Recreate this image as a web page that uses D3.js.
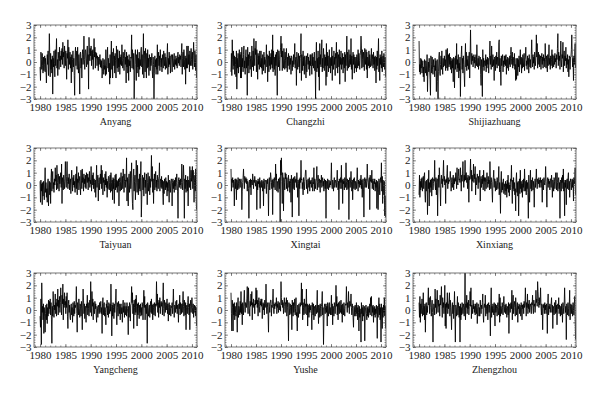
<!DOCTYPE html>
<html>
<head>
<meta charset="utf-8">
<script src="https://cdn.jsdelivr.net/npm/d3@7"></script>
<style>
  body { margin: 0; background: #fff; }
  svg { display: block; }
  .tick text { font-family: "Liberation Serif", "DejaVu Serif", serif; font-size: 11px; fill: #222; }
  .tick line { stroke: #444; stroke-width: 0.6; }
  .name { font-family: "Liberation Serif", "DejaVu Serif", serif; font-size: 10px; fill: #222; }
</style>
</head>
<body>
<svg id="chart" width="600" height="396"></svg>
<script>
// monthly values, Jan 1980 - Dec 2010, one line per year
const stations = ['Anyang', 'Changzhi', 'Shijiazhuang', 'Taiyuan', 'Xingtai', 'Xinxiang', 'Yangcheng', 'Yushe', 'Zhengzhou'];
const yearTicks = [1980, 1985, 1990, 1995, 2000, 2005, 2010];
const valueTicks = [-3, -2, -1, 0, 1, 2, 3];
const startYear = 1980;

const anyang = [
  -0.4, -1.5, 0.8, 0.2, -0.6, 0.7, -0.3, -0.9, 0.4, -0.7, -0.2, 0.5,
  -0.8, 0.3, -0.5, -1.7, -0.4, 0.6, -0.2, 0.9, -1.1, 0.1, 2.3, 0.4,
  -1.2, 0.7, -0.6, 0.2, -0.9, 0.5, -2.6, 0.3, -0.4, 0.9, -0.1, -1.2,
  1.0, -0.3, 0.6, 1.9, -0.5, 0.2, -1.1, 0.8, 0.3, -0.6, 1.2, 0.1,
  0.5, -0.4, 0.9, 0.2, 1.1, -0.2, 1.6, 0.4, 0.8, -0.5, 1.3, 0.6,
  -0.3, 0.9, 0.1, -1.4, 0.7, 0.3, 1.8, -0.6, 1.2, 0.5, -0.2, 0.8,
  -0.5, 0.4, -1.7, 0.6, -0.8, 0.2, 0.9, -0.4, 0.3, -1.1, -2.7, 0.5,
  1.2, -0.3, 0.4, 0.9, -0.6, 1.2, 0.1, -0.9, 0.6, -0.4, -2.6, 0.7,
  0.8, -0.5, 0.3, -1.3, 0.6, 1.0, -0.2, 0.4, 2.1, 0.2, -0.6, 0.9,
  1.0, 0.3, -0.4, 0.8, 1.3, -0.2, 0.6, -2.2, 2.0, 0.7, 0.1, 1.1,
  0.5, 1.3, -0.3, 0.9, 0.2, 1.0, -0.6, 0.7, 1.9, 0.4, 1.2, -0.5,
  0.8, 0.3, 0.7, -0.3, 0.5, 0.1, -0.7, 0.4, -0.2, 0.3, 0.6, -0.4,
  0.2, -0.5, 0.1, -1.3, -0.8, 0.3, -0.2, -1.0, 0.2, -0.6, -0.3, -1.1,
  1.0, -1.0, -0.3, 0.4, 1.2, -0.5, 0.3, -0.8, -0.1, -1.8, 0.6, -1.3,
  0.4, 1.7, -0.6, 0.8, -1.3, 0.2, 1.1, -0.3, 0.5, -0.9, 0.7, 0.1,
  -1.3, 1.3, 0.2, -0.5, 1.0, -0.8, 0.3, -0.4, 0.9, -1.0, 0.4, -0.2,
  0.6, -0.3, 1.4, 0.1, -0.5, 0.8, 0.3, -0.7, 0.5, 1.0, -0.2, 0.4,
  -1.7, 0.8, -0.4, 0.5, -0.9, 0.2, -1.5, 0.6, -0.3, 0.1, -0.8, 0.4,
  0.3, 2.2, -0.5, 1.0, 0.3, -0.6, 0.7, -3.0, -1.5, 0.4, 1.0, -0.2,
  -1.5, 0.6, -0.9, 1.0, -0.4, 0.3, -1.2, 0.8, -0.6, 0.2, -0.3, 0.9,
  1.2, -0.4, 0.6, -1.0, 0.3, 2.3, -1.3, 0.5, 0.9, -0.8, 1.1, 0.2,
  -1.3, 0.7, -0.5, 1.0, -0.4, 0.3, -1.1, 0.6, 0.2, -0.7, 0.4, -0.3,
  0.1, 0.7, -0.8, -1.3, 0.4, -0.2, -3.0, -0.9, 0.5, -0.4, 0.2, -1.0,
  0.3, -0.6, 1.4, -1.0, 0.2, 0.8, -0.3, 0.5, -0.7, 1.0, 0.1, -0.4,
  0.3, -0.8, 0.6, 0.1, -0.5, 0.9, 0.2, -0.3, 0.7, -0.6, 0.4, 0.0,
  -0.5, 0.6, 1.5, -1.0, 0.3, -0.4, 0.8, -0.2, 0.5, -0.9, 0.2, 0.6,
  0.5, -0.8, 0.6, 0.1, -0.4, 0.3, 0.7, -0.6, 0.2, -0.2, 0.5, -0.3,
  0.3, -0.5, 0.6, 0.8, -0.1, 0.4, -0.3, 0.6, 0.2, 0.5, -0.4, 0.7,
  1.5, -1.0, 0.3, 0.8, -0.4, 1.0, 0.2, -0.6, 0.5, -1.8, 0.3, -0.5,
  1.3, -0.5, 0.4, 1.3, -0.2, 0.6, -0.8, 0.9, 0.1, -0.3, 1.1, 0.2,
  -0.3, 0.8, -0.6, 0.5, 1.6, 0.2, -0.4, 0.9, 0.3, -0.7, 0.6, -1.3
];

const changzhi = [
  -0.8, 0.7, -1.1, 1.8, 0.2, -0.6, 0.9, -0.3, 0.5, -1.0, 0.4, -0.2,
  -1.2, 0.9, -2.2, 0.3, -0.5, 0.7, -0.9, 0.2, 1.0, -0.4, 0.6, -1.3,
  0.8, -1.3, 1.2, -0.4, 0.3, -0.8, 0.6, 1.3, -0.5, 0.1, -1.0, 0.5,
  1.0, -0.5, 0.4, -2.7, 1.2, -0.3, 0.6, -0.9, 0.2, 0.8, -0.6, 0.3,
  0.5, -1.2, 1.3, 0.2, -0.4, 0.9, -0.7, 1.9, 0.4, -0.3, 1.1, 0.6,
  1.7, -0.8, 1.0, 0.3, -1.4, 0.7, -0.2, 0.5, -0.6, 0.9, 0.1, -0.4,
  0.9, -0.5, 0.3, -1.0, 0.6, 0.1, -0.7, 0.8, -0.2, 0.4, -0.9, 0.2,
  0.3, 1.4, -0.4, 0.6, -1.6, 0.2, 0.5, -0.8, 0.9, -0.3, 0.4, -0.6,
  0.7, -0.2, 1.0, -0.5, 2.2, -0.8, 0.9, 0.1, -0.6, 0.4, -1.1, 0.6,
  -0.3, 0.8, -0.5, -2.7, 1.0, 0.5, -0.4, 0.9, 0.2, -0.7, 0.6, 1.2,
  2.1, 0.4, 1.5, -0.7, 0.9, 0.2, -0.5, 1.1, 0.3, -0.6, 0.8, 0.1,
  -0.5, 1.1, 0.2, -0.8, 0.4, -0.3, 0.7, 0.1, -0.6, 0.5, -0.2, 0.3,
  -1.0, 0.5, 0.4, -0.7, 0.1, -0.4, 0.6, -0.2, 0.3, 1.5, -0.5, 0.2,
  0.4, -1.9, 0.8, 0.3, -0.6, 0.2, 0.7, -0.4, 0.5, -0.9, 0.3, 0.6,
  2.3, -1.5, 0.6, 0.1, -0.7, 0.9, -0.3, 0.4, -1.0, 0.5, 0.2, -0.4,
  -1.3, 0.5, -0.8, 0.3, 0.7, -0.2, 0.4, -0.6, 0.1, -1.1, 0.6, -0.3,
  0.6, -0.2, -1.0, 0.7, -0.3, 0.4, -0.5, 0.2, 0.8, -0.7, 0.1, -3.0,
  0.5, 1.6, -0.8, 0.3, -0.5, 0.9, -1.2, 0.4, -2.3, 1.5, -0.2, 0.6,
  -0.4, 0.9, 1.8, -0.8, 0.3, -0.5, 1.1, 0.2, -0.7, 0.6, -0.3, 0.4,
  -1.9, 1.5, -1.2, 0.8, -0.3, 0.5, -0.8, 0.2, 1.0, -0.5, 0.3, -0.9,
  0.4, -0.3, 1.2, -1.5, 0.5, 0.1, -0.6, 0.9, -0.2, 0.4, -1.1, 0.7,
  0.3, 1.6, -0.5, 0.8, -0.9, 0.2, 0.6, -0.4, 1.0, -1.8, 0.4, -0.2,
  0.9, -0.6, 0.3, -0.2, 0.7, -0.9, 0.4, 0.1, -0.5, 0.8, -1.6, 0.6,
  -0.3, 0.5, 2.1, -0.7, 0.8, 0.2, -0.5, 1.0, 0.3, -0.4, 0.6, -0.2,
  1.9, -0.6, 0.5, -1.4, 0.3, 0.8, -0.2, 0.6, -0.9, 0.4, 0.1, -0.5,
  0.4, -0.8, 0.6, 0.2, -0.5, 1.0, -0.3, 0.7, 0.1, -0.6, 0.5, 0.9,
  2.1, 1.3, -0.5, 1.0, 0.2, -0.4, 0.8, 0.3, -0.7, 1.1, 0.4, -0.2,
  1.0, -0.6, 0.8, -1.3, 0.4, 0.2, -0.3, 0.9, -0.5, 0.6, 0.1, -0.4,
  0.3, 1.1, -0.3, 0.6, 0.2, -0.5, 0.8, -0.2, 0.4, -0.7, 0.5, 0.0,
  -1.7, 0.4, -0.6, 0.9, -0.3, 0.5, 1.9, -0.8, 0.3, -1.5, 0.6, -0.2,
  0.4, -0.5, 0.9, -0.8, 0.3, 0.5, -0.4, 0.7, 0.2, -0.6, 0.4, -1.2
];

const shijiazhuang = [
  1.7, -0.8, -0.2, -1.0, 0.3, -0.5, 0.2, -0.9, -0.3, 0.1, -1.2, -0.4,
  -1.6, 0.2, -0.5, -0.9, 0.1, -0.3, -1.1, 0.6, -2.4, -0.6, 0.0, -0.8,
  0.3, -0.5, -1.4, -2.7, 0.5, -0.2, -0.9, 0.4, -0.6, -1.0, 0.2, -0.4,
  -0.3, -1.2, 0.3, -0.7, 0.1, -2.4, -0.5, 0.2, -1.6, -3.0, -0.8, 0.4,
  0.8, -0.8, -1.1, -0.2, 0.5, -0.6, 0.9, -0.3, -1.0, 0.3, -0.4, -0.1,
  0.5, -0.3, 0.2, -0.7, 1.0, 0.4, -0.5, 1.1, -0.7, 0.0, 0.6, -0.4,
  0.7, -0.2, 0.4, -0.6, 0.1, -0.9, 0.3, -0.5, 0.2, -1.6, 0.4, -0.4,
  -2.1, 0.3, -0.6, 0.5, -0.2, 1.5, -0.8, 0.2, -0.5, 0.6, -1.3, -0.1,
  -0.7, 0.4, -2.8, -0.3, 0.6, 1.3, -0.6, 0.3, -0.9, 0.5, -0.2, -1.1,
  -2.0, 0.2, 1.5, -0.4, 0.8, -0.7, 0.2, -0.3, 0.5, -0.6, 0.1, 0.8,
  -1.3, 0.4, 2.6, 0.3, -0.2, 0.7, 0.1, 0.5, -0.4, 0.3, 0.6, -0.1,
  0.4, -0.5, 0.2, 0.6, -0.3, 1.4, 0.0, -0.4, 0.3, -0.6, 0.5, -0.2,
  -0.3, 0.4, -1.0, -1.9, 0.2, -0.6, -2.8, 1.0, -0.4, 0.3, -0.7, 0.1,
  0.1, -0.3, 0.6, -0.8, 0.2, -0.5, 0.4, -0.2, 0.3, -0.9, 0.0, 0.5,
  1.7, -0.2, 0.5, -0.6, 1.3, 0.1, -0.4, 0.6, -0.3, 0.2, -1.5, 0.4,
  0.3, -0.7, 0.5, -0.2, 0.8, -0.5, 0.4, 0.1, -0.3, 1.6, 1.8, -0.8,
  0.3, -0.6, -1.9, 0.5, -0.3, 0.2, 0.6, -0.8, 0.1, -0.4, 0.5, -0.2,
  0.5, -0.3, 0.6, -1.0, 0.2, -0.5, 0.4, 0.1, -0.7, 0.3, -0.2, 0.5,
  -0.4, 0.6, 1.2, 0.3, -0.2, 0.8, -0.5, 0.4, 0.1, -0.3, 0.7, -0.6,
  -0.2, -1.5, 0.3, -1.4, -0.6, 0.3, -1.1, 0.2, -0.4, 0.5, -0.8, 0.1,
  1.0, -0.2, 0.4, -0.9, 0.3, -0.5, 0.6, 0.0, -0.4, 0.7, -0.7, 0.2,
  0.4, 1.2, -0.3, 0.1, -0.6, 0.5, -0.2, 0.3, -0.9, 0.6, 0.0, -0.4,
  0.2, -0.5, 0.6, 1.8, 0.3, -0.4, 0.6, -0.1, 0.4, -0.6, 0.8, 0.1,
  -0.3, 0.5, 2.2, 0.4, 1.5, -0.5, 0.3, 0.8, -0.2, 0.6, -0.4, 0.2,
  0.5, -0.6, 0.3, 0.7, -0.2, 0.4, -0.5, 0.6, 0.1, 0.3, -0.4, 1.5,
  0.2, -0.5, 0.5, 0.0, -0.8, 0.6, -0.3, 0.4, 1.4, -0.2, 0.3, -0.6,
  0.5, -0.3, 0.2, 1.0, -0.5, 0.6, 0.1, -0.4, 0.5, -0.2, 0.7, 0.0,
  0.3, -0.5, 0.6, 0.2, 1.1, 2.3, -0.3, 0.8, 0.1, 0.5, -0.6, 0.4,
  1.7, 0.2, -0.4, 0.6, 0.3, 1.6, -0.8, 0.4, 0.9, -0.3, 0.5, 0.1,
  1.2, -0.5, 0.3, -0.2, 0.6, -0.8, 0.2, -1.2, 0.5, 0.3, -0.6, 0.4,
  0.4, 1.0, 2.2, 0.6, -0.4, 0.3, -1.5, 0.5, -0.2, 0.8, 1.5, -0.5
];

const taiyuan = [
  0.3, -1.4, 0.4, -0.5, 0.1, -1.6, 0.2, -0.9, 0.3, -0.4, -1.2, 0.0,
  1.4, -0.6, 0.2, -1.0, -0.3, -1.4, 0.0, 0.5, -1.7, -0.2, 0.3, -0.8,
  0.2, -1.5, 0.6, 1.3, -0.5, 0.4, 1.1, -0.3, 0.2, -0.6, 0.5, 0.0,
  1.4, 0.3, 0.8, -0.4, 1.6, 0.2, -0.3, 0.9, 0.4, -0.5, 0.7, 0.1,
  0.6, 1.0, -0.2, 1.7, -1.5, 0.6, 0.2, -0.4, 0.8, 0.3, -0.3, 0.5,
  1.9, 0.4, -0.2, 0.7, 1.9, 0.3, -0.3, 0.6, 0.1, 0.9, -0.4, 0.2,
  0.5, -0.7, 0.4, 1.2, 0.3, -0.5, 0.6, 0.0, 0.8, -0.2, 0.3, -0.6,
  0.4, 0.9, -0.3, 1.5, -0.8, 0.5, 0.2, 1.0, -0.4, 0.3, 0.7, -0.1,
  -0.8, 1.2, 0.4, -0.3, 1.3, 0.2, 0.6, -0.5, 0.9, 0.1, 0.5, -0.2,
  0.8, -0.3, 1.0, 0.5, 0.2, 0.9, -0.4, 0.6, 0.3, 1.1, -0.2, 0.4,
  0.1, 1.5, -0.5, 0.3, 0.8, 0.0, 1.0, -0.3, 0.5, 0.2, -0.6, 0.4,
  -1.0, 0.3, 1.6, -0.2, 0.5, 0.8, -1.3, 0.2, 0.6, -0.4, 0.3, 0.9,
  0.1, 1.6, -0.3, 1.2, 0.4, -0.8, 0.6, 0.2, 0.4, -0.5, 0.9, 0.0,
  1.1, -0.2, 0.5, -1.0, 0.3, -0.3, 0.7, 0.6, -0.4, 0.2, 0.8, -0.6,
  1.0, 0.2, -0.5, 0.4, -1.2, 0.6, -0.3, 0.5, -1.5, 0.2, 0.8, -0.4,
  0.9, -0.2, 0.4, -0.6, 0.3, -0.1, 0.5, -1.7, 0.2, 0.6, -0.5, 0.3,
  1.0, -0.4, 0.2, 0.7, -0.3, 1.3, 0.5, -0.6, 0.3, 0.9, -0.2, 0.4,
  0.3, 2.2, -1.3, 0.6, -0.4, -1.7, 0.5, 0.9, -0.6, 0.2, 1.1, -0.3,
  0.5, 1.8, -0.4, -1.5, -2.0, 0.7, 1.3, -0.5, 0.3, 0.8, -1.2, 0.2,
  2.0, 0.4, -0.6, 1.6, 0.2, -0.8, 0.5, -0.3, 0.9, -0.5, 0.6, 1.9,
  -2.6, -1.2, 0.5, 0.8, -0.4, 0.6, -0.9, 0.3, 1.0, -0.2, 0.4, -0.7,
  0.9, 0.4, -1.6, 0.2, 1.0, -0.5, 0.3, 0.7, -0.8, 0.5, -0.2, 0.6,
  2.4, 0.3, 1.5, -0.6, 0.5, -1.5, 0.2, 0.9, -0.4, 0.3, 1.1, -0.2,
  0.4, -0.5, 0.8, 0.2, -0.3, 0.5, 0.7, 1.8, -0.5, 0.3, 0.5, -0.2,
  0.7, -0.3, 0.4, -0.7, -1.6, 0.3, -0.7, 0.5, 0.1, -0.4, 0.6, -0.2,
  0.3, -0.9, 0.2, -0.5, 0.8, -0.3, -1.4, 0.4, 0.3, -0.6, 0.1, 0.5,
  0.4, -1.7, 0.2, 0.5, -0.3, 0.3, -0.6, 0.4, -0.1, 0.6, -0.4, 0.2,
  0.9, 0.1, -0.5, -2.7, 0.3, 0.6, -0.2, 0.4, 0.0, 0.5, -0.3, 0.2,
  1.7, 0.2, -0.4, 0.6, 1.6, 0.3, -2.7, 0.5, -0.3, 0.8, -0.6, 0.4,
  0.2, -0.5, 0.7, -1.7, 0.4, 0.3, -0.2, 1.5, 0.6, -0.4, 1.2, 0.3,
  0.6, 1.5, -0.3, 1.2, 0.4, -1.4, 0.2, 0.8, -0.5, 1.3, -0.9, -2.0
];

const xingtai = [
  1.3, -0.5, 0.5, 0.2, 0.6, -0.2, 0.4, 0.1, -1.7, 0.3, 0.5, -0.3,
  0.5, -1.2, 0.4, 0.2, -0.4, 0.6, 0.1, -0.3, 0.5, 0.3, -0.2, 0.4,
  0.5, 0.3, -2.0, -0.5, 0.2, 0.6, 1.3, 0.4, -0.3, 0.7, 0.2, 0.5,
  0.6, 0.1, 0.5, -0.5, 0.3, 0.2, -0.3, -2.7, 0.4, 0.3, -0.2, 0.5,
  -0.8, 0.4, 0.3, 0.0, 0.9, 0.5, -0.3, 0.4, 0.2, 0.7, 0.3, -0.1,
  0.4, 0.2, -2.0, 0.3, -0.4, 0.5, 0.1, 0.3, -0.2, 0.6, -1.9, 0.2,
  0.3, -0.2, 0.4, 0.1, -0.5, 0.3, -1.7, 0.5, 0.2, -0.3, 0.4, 0.3,
  0.3, -0.7, 0.4, 0.1, 0.5, -0.2, -2.5, 0.3, 0.6, -0.4, 0.2, 1.0,
  0.6, 0.2, -0.3, 0.4, -2.4, 0.5, 0.1, -0.2, 0.6, 0.3, -0.4, 1.7,
  0.4, 0.9, -0.5, 0.3, 0.1, -0.6, 0.5, 0.2, -0.3, 0.6, -3.0, 2.0,
  0.8, 2.2, 0.3, -1.5, 1.0, 0.4, -2.1, 0.6, 0.2, -0.4, 1.0, 0.5,
  0.9, -0.3, 0.6, 0.2, -0.5, 0.4, 0.8, -0.2, 0.3, -0.6, 0.5, 0.1,
  -1.4, 0.8, 0.3, -2.6, 0.5, -0.3, 0.6, 0.1, -0.4, 0.7, 0.2, 0.4,
  0.5, -0.2, 1.0, 0.3, -1.0, 0.4, 0.1, -2.5, 0.5, -0.3, 0.6, 0.2,
  2.0, 0.4, 0.5, -0.3, 0.2, -0.8, 0.6, 0.1, -0.4, 0.3, 0.7, 1.2,
  1.2, -0.3, 0.4, 0.1, -0.7, 0.5, 0.2, -0.2, 0.6, -0.5, 0.3, 0.1,
  0.4, -0.2, 0.3, 0.6, -0.5, 0.2, 0.1, 1.4, -0.5, 0.5, 0.2, -0.3,
  0.3, 0.5, 1.5, -0.4, 0.2, 0.8, 0.3, -0.2, 0.5, 0.1, -0.6, 0.4,
  0.2, 0.8, -0.2, 0.4, 0.6, -0.1, 0.3, -0.5, 0.5, 0.2, -0.3, 0.4,
  -2.7, 0.3, 0.2, -0.3, 0.5, 0.1, -0.4, 0.4, 0.2, -0.2, 0.3, 0.0,
  0.5, 1.8, 0.0, -0.3, 0.4, 0.2, -0.5, 0.3, 0.6, -0.2, 0.1, 0.4,
  0.3, -0.2, 0.5, 1.2, 0.2, -0.4, 0.3, -2.0, 0.5, 0.1, -0.3, 0.6,
  0.2, 1.6, -0.3, 0.4, -1.5, 0.5, 0.1, 0.3, -0.4, 0.6, 0.2, -0.2,
  1.8, 0.3, -0.4, 0.5, 0.2, -0.3, 0.4, -2.8, 0.3, 0.6, -0.2, 0.4,
  1.1, 0.3, -0.5, 0.4, -1.2, 0.2, 0.5, -0.3, 0.6, 0.1, -0.4, 0.3,
  0.2, -0.3, 0.5, 1.4, 0.3, -0.5, 0.4, 0.1, 0.3, -0.2, 0.5, 0.0,
  0.8, -0.3, 0.4, -1.0, 0.2, 0.5, -0.4, -2.6, 0.3, 0.6, -0.2, 0.4,
  0.5, -0.2, 0.3, 1.7, 0.5, 0.2, -0.3, 0.4, 0.6, -2.0, 0.8, 0.3,
  0.4, 0.2, 1.2, -0.3, 0.4, 0.5, -0.4, 0.3, 0.1, 0.5, -0.5, 0.2,
  -0.2, 0.4, -1.9, -0.6, 0.3, -2.0, -0.4, 0.5, 0.2, -0.8, 0.3, 0.6,
  0.2, 1.8, -0.5, 0.7, -1.5, 0.4, -0.3, -0.8, 0.3, -2.5, -0.9, -2.6
];

const xinxiang = [
  -0.8, 0.8, -1.0, 0.3, -0.4, 0.5, -0.2, 0.6, -0.5, 0.2, 0.7, -0.3,
  0.7, 1.0, -0.8, -1.4, 0.3, -0.5, 0.4, 0.0, -2.4, 0.5, -0.3, 1.2,
  -1.7, 0.2, -0.6, 0.4, -0.2, 0.5, -0.9, 0.3, 0.6, -0.4, 0.1, 0.5,
  0.3, 2.0, 0.0, -0.4, 0.6, -0.8, 0.2, 0.5, -2.5, 0.3, 0.8, -0.2,
  1.4, 0.6, -0.3, -1.7, 0.4, 0.8, 0.1, 0.5, -0.2, 0.9, 2.0, 0.3,
  0.7, 0.0, 0.4, -1.5, 0.5, 0.2, 0.9, 1.6, -0.3, 0.6, 0.1, 0.4,
  0.3, 0.5, 1.1, 0.4, -0.5, 0.2, 0.6, -0.2, 0.3, 0.8, -0.4, 0.5,
  0.1, 0.6, 0.3, 1.0, 0.5, -0.3, 1.4, 0.2, 0.0, 0.7, 1.3, 0.4,
  0.5, 0.2, 1.4, 0.6, -0.5, 0.8, 0.3, 0.9, 1.9, 0.4, -0.2, 0.8,
  0.3, 2.0, 0.4, 0.9, 1.0, 0.2, 0.6, -0.3, 0.8, 0.5, -1.4, 0.7,
  0.4, 0.9, 2.1, 0.5, 1.2, -0.5, 0.8, 0.3, 0.6, 1.7, 0.2, 0.9,
  0.5, 1.5, -0.8, 0.6, 0.0, 0.4, 0.9, 0.5, -0.3, 0.7, 0.2, 0.6,
  1.2, -1.3, 0.4, 0.7, -0.2, 0.5, 0.1, 0.8, -0.4, 1.2, 0.3, 0.6,
  -0.5, 0.6, 0.2, -0.3, 0.5, 1.0, 0.3, -0.2, 0.7, 0.1, 0.4, -0.4,
  1.9, 0.4, -0.3, 0.6, 0.2, -0.5, -1.4, 0.3, 0.6, 1.2, -0.2, 0.5,
  0.5, -0.5, 0.3, 0.0, -0.4, 0.6, 0.2, -0.3, 0.5, 1.5, -0.8, 0.2,
  -0.3, -2.3, 0.4, 1.1, -0.6, 0.2, -0.4, 0.3, 0.5, -0.7, 0.1, -0.2,
  -0.8, 0.3, -0.5, 0.1, -1.0, 0.4, -0.3, 0.8, -0.6, 0.2, -0.9, 0.0,
  -0.4, 0.5, 0.3, 1.6, -0.2, -1.5, 0.4, -0.3, 0.6, -0.5, 0.2, -0.8,
  -0.3, -2.1, 0.4, 1.0, -0.6, 0.2, -0.9, 0.3, -2.5, -0.4, 0.5, -0.7,
  1.2, -0.3, 0.3, -0.6, 0.1, -1.0, 0.4, -0.2, 0.5, -0.5, 1.3, 0.2,
  -0.5, 0.3, -0.8, 0.4, -0.3, 0.2, -0.6, -2.7, 0.8, -0.4, -1.4, 0.1,
  1.2, -0.3, 0.4, -0.5, 0.2, 0.6, -0.4, 0.3, -0.2, -1.8, 0.0, 0.5,
  -0.2, 0.4, 1.3, 0.2, -0.3, 0.5, 0.3, 0.1, 0.6, -0.2, 0.4, 0.2,
  0.6, -0.2, 0.4, 0.1, -1.4, 0.5, 0.3, -0.4, 0.6, 0.2, 0.0, 0.4,
  1.5, 0.3, -0.5, -1.8, 0.4, 0.6, -0.2, 0.5, 0.1, 0.3, -0.4, 0.5,
  0.5, -0.2, 0.8, 0.3, -1.0, 0.4, 0.2, -0.5, 0.6, 0.3, -0.3, 0.4,
  1.0, 0.3, -0.4, 1.0, 0.2, -0.5, 0.4, 0.6, -0.3, 0.2, -2.7, 0.4,
  0.3, -0.5, 0.6, 0.2, 0.8, -0.3, 1.3, -0.5, 0.2, -2.5, 0.4, -0.2,
  0.4, -1.6, 0.2, 0.5, -0.3, 0.6, 1.0, -0.4, 0.3, -1.0, 0.2, 0.5,
  0.2, -0.4, 0.3, 0.5, -0.2, 0.4, -1.3, 0.6, 0.1, 0.3, 1.4, -0.8
];

const yangcheng = [
  -0.5, -1.4, 0.9, -2.8, 2.2, -0.2, 0.3, -0.8, 0.5, -1.9, 0.2, -0.5,
  -1.8, -0.3, 0.4, -0.8, 0.5, -1.1, 0.2, -0.5, 0.8, -0.3, 0.7, 0.1,
  0.9, -0.4, 0.6, -0.8, -2.7, 0.3, -0.5, 1.5, 0.2, -0.6, 0.4, 0.0,
  1.3, -0.3, 0.6, -0.5, 0.9, 0.3, 1.7, -0.4, 0.8, 0.2, 1.1, -0.2,
  0.6, 1.8, 0.3, -0.4, 1.2, 0.5, 2.1, -0.8, 0.9, 0.2, 1.4, 0.4,
  0.7, -0.3, 1.1, 0.2, 1.4, -0.5, -1.5, 0.5, 0.8, -0.2, 0.4, -0.6,
  -0.8, 0.3, 0.5, -0.4, 0.2, -1.0, 0.6, 0.1, -0.5, 0.7, -0.3, 0.4,
  0.2, 0.6, 1.9, -0.3, -1.8, 0.6, 0.2, -0.4, 0.9, 0.1, -0.6, 0.5,
  0.3, -0.5, 0.7, 0.1, -1.6, 0.4, 1.7, 0.8, -0.3, 0.5, -0.7, 0.2,
  0.3, -1.0, 0.5, 0.2, 1.2, -0.4, 0.6, 0.1, -0.5, 0.4, 0.8, -0.2,
  2.3, 0.4, -0.5, 1.5, 0.3, 0.9, -0.8, 0.6, 0.2, -0.3, 0.7, 0.1,
  0.5, -0.4, -1.0, 0.3, 0.1, -0.6, 0.4, 0.2, -0.3, 0.6, -0.2, 0.3,
  0.7, -0.3, 0.2, -1.9, 0.5, 1.0, -0.4, 0.3, 0.6, -0.5, 0.2, -0.2,
  -1.2, 0.5, 0.2, 0.8, -0.4, 0.3, -0.6, 0.6, 0.1, -0.3, 0.5, -0.1,
  2.1, 0.3, -2.1, 0.4, -0.5, 0.6, 0.2, -0.7, 0.5, -0.2, 0.3, 0.8,
  1.7, -0.4, -1.2, 0.6, 0.2, -0.5, 0.7, 0.1, -0.3, 0.5, -0.8, 0.3,
  0.5, -0.3, 0.2, -1.0, 0.4, 0.8, -0.2, 0.3, -0.6, 0.6, 0.1, -0.4,
  0.3, -0.5, 0.6, 0.1, -0.3, -2.0, 0.3, -0.6, 0.6, 0.2, -0.9, 0.4,
  0.5, 1.9, 0.6, 1.4, -0.3, 0.5, -1.5, 0.8, 0.2, -0.4, 0.9, -0.2,
  1.2, 0.3, -1.3, 0.5, -0.4, 0.6, 0.1, -0.7, 0.4, -0.2, 0.5, -0.5,
  0.2, -0.4, 0.6, 0.3, -0.8, 0.5, 1.6, 0.2, 1.1, -0.8, 0.4, 0.1,
  -0.3, 0.5, -2.7, 0.6, 0.2, -0.5, 0.0, 0.4, -0.6, 0.3, 0.7, -0.2,
  0.9, -0.3, 0.4, -0.8, 0.5, 0.2, -0.4, 0.6, 0.1, -0.5, 0.5, 0.3,
  2.3, 0.4, 1.3, -0.2, 0.6, -0.6, 0.8, 0.2, 1.0, -0.3, 0.5, 0.7,
  0.3, 0.6, -0.4, 0.9, 2.2, 0.1, -0.5, 0.8, 0.3, -0.2, 0.6, 0.0,
  0.4, 0.9, -0.3, 0.5, -0.9, 0.2, 0.6, -0.4, 0.4, 0.1, -0.5, 0.3,
  0.2, 0.6, -0.3, 0.5, 1.7, 0.2, -0.6, 0.4, 0.3, -0.2, 0.7, 0.1,
  0.8, -0.3, 0.4, 0.2, -1.0, 0.5, 0.1, 1.2, -0.4, 0.6, 0.2, -0.3,
  0.5, -0.2, 0.6, 1.5, 0.3, -0.5, 0.8, 0.1, -0.4, 0.6, -1.6, 0.2,
  0.4, -0.3, 0.6, 1.1, 0.2, -0.4, 0.5, -1.6, 0.3, 0.8, -0.2, 0.4,
  1.0, 0.2, -0.3, 0.5, -0.6, 0.1, 0.4, -0.2, 0.3, -0.5, 0.2, -1.3
];

const yushe = [
  1.4, -0.3, -1.7, 0.8, 0.2, -1.7, 0.5, -0.4, 0.6, -0.8, 0.3, -0.2,
  -0.5, 0.6, -0.3, -1.8, 0.4, 1.0, -0.6, 0.3, 0.1, -0.4, 0.7, -0.2,
  1.5, -0.3, 0.5, -1.2, 0.6, 0.2, -0.4, 0.8, 1.6, 0.3, -0.2, 0.6,
  0.5, 0.2, 0.9, 1.9, 0.4, -0.3, 1.8, 0.6, 0.1, -0.5, 0.7, 0.3,
  1.3, 0.4, 1.5, -0.8, 0.6, 0.3, 0.9, 0.2, 0.5, -0.3, 0.8, 0.4,
  1.8, 0.5, 1.6, 0.2, 0.8, -0.5, 0.6, 1.0, 0.3, -0.2, 0.7, 0.4,
  0.9, 0.3, 0.9, -0.7, 0.3, 0.6, 0.0, 0.5, -0.4, 0.8, 0.2, 0.4,
  2.1, 0.5, -0.3, 0.6, 0.2, -0.4, -1.8, 0.6, 0.3, -0.2, 0.5, 0.8,
  0.8, -0.5, 0.4, 0.2, 0.9, 1.7, 0.3, -0.3, 0.5, 0.1, 0.6, 0.5,
  0.3, 1.0, -0.3, 0.5, 0.2, 0.7, -0.2, 0.4, 0.6, 0.0, 0.3, -0.1,
  2.3, 1.0, 0.4, 0.8, 0.2, 0.6, -0.3, 0.5, 1.0, 0.3, -0.2, 0.6,
  0.5, 1.0, -0.5, 0.8, 0.2, -0.3, -2.5, 0.6, 0.1, -0.4, 0.5, 0.2,
  -0.3, 0.4, -1.6, 0.8, 0.3, -0.5, 0.6, -0.2, 0.3, 0.9, -0.4, 0.1,
  1.0, -0.5, -0.2, -1.7, 0.4, 0.2, -0.6, 0.5, 0.0, -0.3, 0.6, 0.3,
  0.5, 2.2, 0.4, 1.7, -0.8, 0.6, 0.2, -0.4, 0.9, 0.1, -0.3, 0.5,
  0.3, 1.7, -0.4, 0.5, -1.3, 0.4, 0.2, -0.6, 0.5, -0.2, 0.3, 0.0,
  0.4, -0.3, -1.6, 0.6, 0.2, -0.4, 0.5, -0.8, 0.3, 0.1, -0.5, 0.4,
  0.2, -0.3, 0.5, 1.6, -0.2, 0.4, -1.1, 0.4, 0.2, -0.6, 0.5, 0.1,
  -0.5, 0.3, 0.6, 1.5, -0.4, 0.2, -2.8, -0.8, 0.3, 0.5, -0.3, 0.2,
  0.5, -0.2, 0.3, -1.3, 0.6, 0.1, -0.5, 0.4, 0.6, -0.3, 0.2, -0.4,
  0.3, 1.2, -0.4, 0.5, -1.2, 0.3, 0.1, -0.5, 0.6, 0.2, -0.3, 0.4,
  2.0, 0.3, 1.1, -0.4, 0.5, -0.8, 0.6, 0.2, -0.3, 0.7, 0.1, -0.2,
  0.8, -0.3, 0.4, -1.0, 0.5, 0.2, -0.4, 0.6, 0.1, -0.5, 0.3, 0.5,
  0.4, 1.9, 0.3, -0.2, 0.6, 0.2, 1.5, 0.4, -0.3, 0.7, 0.3, 0.5,
  1.3, 0.2, -0.4, 0.5, 0.1, -0.6, -1.4, 0.3, 0.2, -0.5, 0.4, -0.2,
  -0.5, 0.6, -0.3, 0.2, -0.8, 0.4, -0.2, -1.7, 0.3, -0.6, 0.1, -0.4,
  -2.6, 0.6, -0.3, 0.2, -0.9, 0.4, -0.5, -0.2, 0.3, -2.5, -0.4, 0.2,
  0.4, -0.3, -0.8, 0.2, -0.5, 0.3, -0.6, 0.1, -0.2, 0.5, -0.4, 1.0,
  0.3, 1.1, -0.5, 0.3, -0.2, 0.4, -1.0, 0.2, -0.4, 0.3, -0.6, 0.1,
  -0.3, 0.4, -0.5, -2.3, 0.3, -0.6, 0.2, 1.0, -0.4, 0.5, -0.8, 0.2,
  -2.6, 0.5, -0.3, -1.5, 0.2, -0.6, 0.4, -0.2, 1.0, -0.5, 0.3, -1.5
];

const zhengzhou = [
  0.6, -0.6, 1.1, -1.0, 0.5, -0.3, 0.4, 0.9, -0.5, 0.2, 1.4, -0.4,
  0.3, -0.8, 0.5, -1.8, 0.2, 0.6, -0.4, 0.3, -0.2, 0.7, 1.8, 0.4,
  1.0, -0.3, 0.6, 1.1, 0.2, -0.5, 0.4, 0.8, -0.2, -2.6, 0.0, 0.5,
  0.3, -0.4, 1.7, 0.2, 0.9, -0.3, 0.5, 1.6, 0.4, -0.2, 0.8, 0.3,
  0.5, -0.5, 1.2, 0.4, 0.8, 1.9, 0.3, -0.6, 1.0, 0.2, 0.6, -0.3,
  0.4, 2.0, -1.3, 0.5, -1.5, 0.6, 0.2, 1.4, -0.3, 0.5, 0.1, 0.8,
  1.4, -0.5, 0.8, 0.2, -0.4, -1.6, 0.3, 0.6, -0.3, 0.4, -0.7, 0.2,
  1.5, -0.3, -2.6, 0.4, 0.2, -0.5, 0.3, 1.1, -0.4, 0.6, 0.1, -0.6,
  0.3, -2.6, 0.5, -0.8, 0.2, -0.4, 0.6, 0.1, -0.3, 0.5, 0.2, -0.5,
  0.4, 3.0, -0.8, 0.5, 0.2, 1.2, -0.3, 0.6, 0.1, 0.8, -0.4, 0.3,
  0.5, 1.5, 0.3, 1.8, -0.7, 0.4, 0.2, -0.3, 0.8, 0.1, 0.5, -0.2,
  0.3, -0.4, 0.5, 0.1, -0.3, 0.6, -1.1, 0.2, 0.5, 0.3, -0.5, 0.2,
  -0.5, 0.8, 0.2, -0.3, 0.4, 0.1, 0.6, 1.3, -0.4, -1.0, 0.3, 0.5,
  0.2, 1.2, -0.5, 0.4, 0.1, -0.3, 0.5, -0.8, 0.3, 0.6, -0.2, 0.4,
  0.1, -2.1, 0.5, 1.8, -0.6, 0.3, -0.2, 0.5, 0.1, -0.4, 0.6, -0.3,
  -1.3, 0.5, -0.2, 0.4, 0.1, -0.5, 0.3, 0.6, -0.4, 0.2, 1.3, -1.0,
  1.0, -0.5, 0.3, 0.1, -0.3, 0.6, 0.2, -0.4, 0.5, 1.1, 0.3, -0.2,
  0.4, -0.3, 0.5, 0.2, -0.6, 0.3, 0.1, -0.4, 0.6, -1.9, 0.3, 0.5,
  -0.2, 0.4, 0.6, 0.1, 1.6, -0.8, 0.5, 1.2, -0.3, 0.4, 0.7, 0.2,
  -0.5, 1.0, 0.3, -0.4, 0.2, 0.6, -1.0, 0.3, 0.1, 0.5, -0.3, 0.4,
  0.3, -0.5, 0.6, 0.2, -0.8, 0.4, 0.1, 0.5, -0.3, 0.7, 0.2, 0.4,
  1.8, 0.4, -0.5, 0.6, 0.2, 1.3, -0.3, 0.5, 0.1, 0.8, -0.2, 0.3,
  0.5, 0.2, -0.3, 0.6, 0.4, 1.2, 0.1, -0.3, 0.8, 0.3, 0.5, -0.2,
  0.4, 1.6, 0.6, 0.9, 0.3, 2.3, 1.5, 0.7, 0.2, 1.0, 0.4, 0.6,
  1.8, 0.3, -0.4, 0.5, 0.1, -1.6, 0.4, 0.2, 0.5, -0.3, 0.6, 0.0,
  0.4, -0.3, 0.5, 0.2, -1.9, 0.6, 1.3, -0.4, 0.3, 0.1, 0.5, -0.2,
  0.3, 0.5, 1.0, -0.2, 0.4, -1.5, 0.3, 0.1, -0.4, 0.6, 0.2, -0.3,
  0.8, -0.2, 0.4, -1.2, 0.3, 0.5, 0.1, 1.0, -0.3, 0.4, 0.2, -0.5,
  0.3, -0.4, 0.5, 0.1, -1.0, 0.6, 0.2, -0.3, 0.5, 1.8, 0.4, -0.2,
  0.3, -2.4, 0.5, 0.2, -0.4, 0.6, 0.1, -0.5, 0.4, 1.6, -0.8, 0.3,
  0.5, -0.3, 0.4, 0.2, -0.5, 0.6, 0.1, -0.4, 0.5, 1.1, -0.5, -2.4
];

const series = [anyang, changzhi, shijiazhuang, taiyuan, xingtai, xinxiang, yangcheng, yushe, zhengzhou];

const svg = d3.select('#chart');

// panel boxes
const colLeft = [34, 225, 413];
const colRight = [197, 386, 576];
const rowTop = [25, 148, 273];
const panelH = 74;

series.forEach((values, k) => {
  const c = k % 3;
  const r = Math.floor(k / 3);
  const w = colRight[c] - colLeft[c];

  const g = svg.append('g')
      .attr('transform', 'translate(' + colLeft[c] + ',' + rowTop[r] + ')');

  const x = d3.scaleLinear().domain([1978.8, 2011]).range([0, w]);
  const y = d3.scaleLinear().domain([-3, 3]).range([panelH, 0]);

  g.append('clipPath').attr('id', 'clip' + k)
    .append('rect').attr('width', w).attr('height', panelH);

  const line = d3.line()
      .x((d, i) => x(startYear + i / 12))
      .y(d => y(d));

  g.append('path')
      .datum(values)
      .attr('clip-path', 'url(#clip' + k + ')')
      .attr('fill', 'none')
      .attr('stroke', '#000')
      .attr('stroke-width', 0.85)
      .attr('stroke-linejoin', 'miter')
      .attr('d', line);

  // minor ticks
  const minorYears = d3.range(1979, 2012);
  const minorVals = d3.range(-3, 3.01, 0.2);
  g.append('g').attr('transform', 'translate(0,' + panelH + ')')
    .call(d3.axisBottom(x).tickValues(minorYears).tickSizeInner(-1.5).tickSizeOuter(0).tickFormat(''));
  g.append('g')
    .call(d3.axisTop(x).tickValues(minorYears).tickSizeInner(-1.5).tickSizeOuter(0).tickFormat(''));
  g.append('g')
    .call(d3.axisLeft(y).tickValues(minorVals).tickSizeInner(-1.5).tickSizeOuter(0).tickFormat(''));
  g.append('g').attr('transform', 'translate(' + w + ',0)')
    .call(d3.axisRight(y).tickValues(minorVals).tickSizeInner(-1.5).tickSizeOuter(0).tickFormat(''));

  // major ticks and labels
  g.append('g').attr('transform', 'translate(0,' + panelH + ')')
    .call(d3.axisBottom(x).tickValues(yearTicks).tickSizeInner(-3).tickSizeOuter(0)
      .tickPadding(4.5).tickFormat(d3.format('d')));
  g.append('g')
    .call(d3.axisTop(x).tickValues(yearTicks).tickSizeInner(-3).tickSizeOuter(0).tickFormat(''));
  g.append('g')
    .call(d3.axisLeft(y).tickValues(valueTicks).tickSizeInner(-3).tickSizeOuter(0)
      .tickPadding(2.5).tickFormat(d3.format('d')));
  g.append('g').attr('transform', 'translate(' + w + ',0)')
    .call(d3.axisRight(y).tickValues(valueTicks).tickSizeInner(-3).tickSizeOuter(0).tickFormat(''));

  g.selectAll('.domain').remove();

  // frame
  g.append('rect')
      .attr('width', w)
      .attr('height', panelH)
      .attr('fill', 'none')
      .attr('stroke', '#555')
      .attr('stroke-width', 0.8);

  // station name
  g.append('text')
      .attr('class', 'name')
      .attr('x', w / 2)
      .attr('y', panelH + 26)
      .attr('text-anchor', 'middle')
      .text(stations[k]);
});
</script>
</body>
</html>
